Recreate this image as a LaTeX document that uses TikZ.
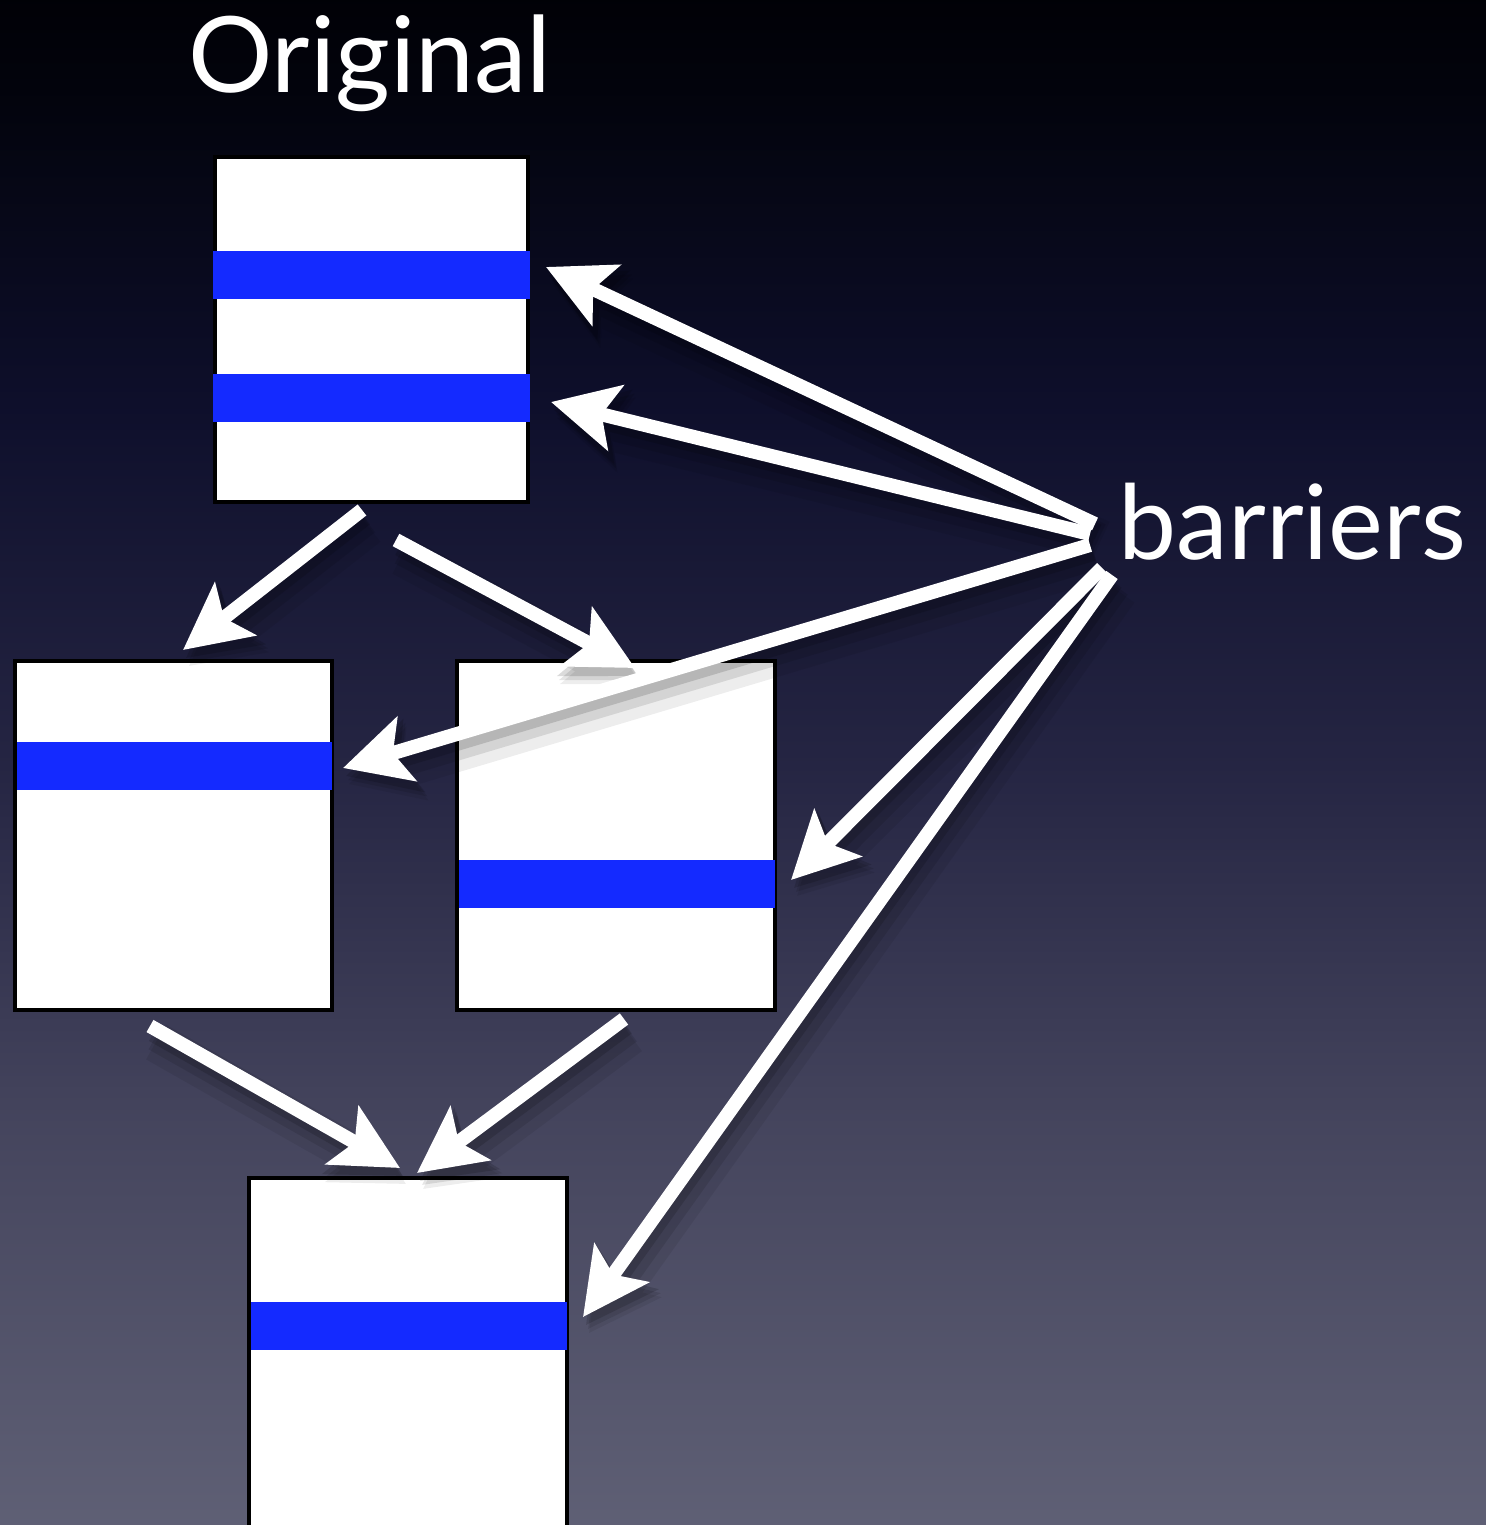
\documentclass[tikz,border=0pt]{standalone}
\usepackage{fontspec}
\setmainfont{Lato}
\usetikzlibrary{arrows.meta}

% slide background: near black at the top fading to a grey-blue at the bottom
\pgfdeclareverticalshading{slidebg}{100bp}{%
  rgb(0bp)=(0.376,0.380,0.463);
  rgb(25bp)=(0.376,0.380,0.463);
  rgb(38.44bp)=(0.270,0.270,0.366);
  rgb(49.92bp)=(0.145,0.145,0.262);
  rgb(61.39bp)=(0.055,0.059,0.170);
  rgb(71.23bp)=(0.010,0.014,0.050);
  rgb(75bp)=(0,0,0.02);
  rgb(100bp)=(0,0,0.02)}

\definecolor{barrierblue}{RGB}{20,42,255}

\tikzset{
  memblock/.style={draw=black, fill=white, line width=0.045cm, inner sep=0pt, outer sep=0pt},
  band/.style={fill=barrierblue},
  arr/.style={draw=white, line width=0.14cm,
    -{Stealth[length=0.66cm, width=0.66cm, inset=0.14cm]}},
  arrshade/.style={draw=black, line width=#1,
    -{Stealth[length=0.70cm, width=0.74cm, inset=0.14cm]}},
  label/.style={text=white, inner sep=0pt}
}

\begin{document}
\begin{tikzpicture}[x=0.01cm, y=-0.01cm]
  \useasboundingbox (0,0) rectangle (1485,1525);
  % background runs a little past the page edges
  \shade[shading=slidebg] (-20,-20) rectangle (1505,1545);

  % title and label
  \node[label, anchor=base, font=\fontsize{30}{36}\selectfont] (orig-title) at (370,93) {Original};
  \node[label, anchor=base west, font=\fontsize{29.5}{35}\selectfont] (barriers) at (1118,560) {barriers};

  % blocks
  \node[memblock, minimum width=3.13cm, minimum height=3.45cm] (top)    at (371.5,329.5) {};
  \node[memblock, minimum width=3.17cm, minimum height=3.49cm] (left)   at (173.5,835.5) {};
  \node[memblock, minimum width=3.18cm, minimum height=3.49cm] (right)  at (616,835.5) {};
  \node[memblock, minimum width=3.18cm, minimum height=3.70cm] (bottom) at (408,1363) {};

  % barrier bands
  \fill[band] (213,251) rectangle (530,299);
  \fill[band] (213,374) rectangle (530,422);
  \fill[band] (17,742) rectangle (332,790);
  \fill[band] (459,860) rectangle (775,908);
  \fill[band] (251,1302) rectangle (567,1350);

  % connector ends
  \coordinate (b1) at (1095,524);
  \coordinate (b2) at (1090,534);
  \coordinate (b3) at (1090,545);
  \coordinate (b4) at (1102,568);
  \coordinate (b5) at (1112,575);
  \coordinate (t1) at (546,267);
  \coordinate (t2) at (551,402);
  \coordinate (t3) at (343,768);
  \coordinate (t4) at (791,880);
  \coordinate (t5) at (583,1317);
  \coordinate (top-l)    at (362,510);
  \coordinate (top-r)    at (396,540);
  \coordinate (left-in)  at (183,650);
  \coordinate (right-in) at (635,668);
  \coordinate (left-o)   at (150,1026);
  \coordinate (right-o)  at (624,1019);
  \coordinate (bot-l)    at (400,1168);
  \coordinate (bot-r)    at (417,1173);

  % soft drop shadows under the arrows
  \begin{scope}[transparency group, opacity=0.07, transform canvas={shift={(0.06cm,-0.16cm)}}]
    \foreach \s/\t in {b1/t1, b2/t2, b3/t3, b4/t4, b5/t5, top-l/left-in, top-r/right-in, left-o/bot-l, right-o/bot-r}
      \draw[arrshade=0.40cm] (\s) -- (\t);
  \end{scope}
  \begin{scope}[transparency group, opacity=0.10, transform canvas={shift={(0.05cm,-0.12cm)}}]
    \foreach \s/\t in {b1/t1, b2/t2, b3/t3, b4/t4, b5/t5, top-l/left-in, top-r/right-in, left-o/bot-l, right-o/bot-r}
      \draw[arrshade=0.26cm] (\s) -- (\t);
  \end{scope}
  \begin{scope}[transparency group, opacity=0.14, transform canvas={shift={(0.03cm,-0.08cm)}}]
    \foreach \s/\t in {b1/t1, b2/t2, b3/t3, b4/t4, b5/t5, top-l/left-in, top-r/right-in, left-o/bot-l, right-o/bot-r}
      \draw[arrshade=0.16cm] (\s) -- (\t);
  \end{scope}

  % block-to-block arrows
  \draw[arr] (top-l) -- (left-in);
  \draw[arr] (top-r) -- (right-in);
  \draw[arr] (left-o) -- (bot-l);
  \draw[arr] (right-o) -- (bot-r);

  % arrows from the barriers label
  \draw[arr] (b1) -- (t1);
  \draw[arr] (b2) -- (t2);
  \draw[arr] (b3) -- (t3);
  \draw[arr] (b4) -- (t4);
  \draw[arr] (b5) -- (t5);
\end{tikzpicture}
\end{document}
